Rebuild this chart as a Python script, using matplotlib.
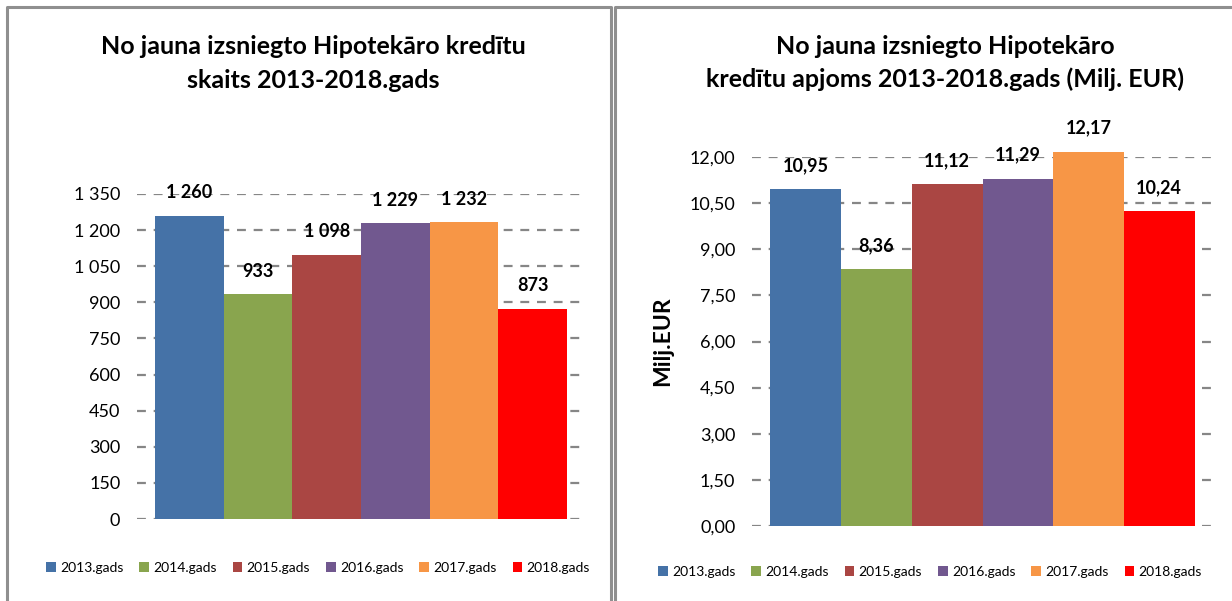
import matplotlib
matplotlib.use("Agg")
import matplotlib.pyplot as plt
from matplotlib.lines import Line2D
from matplotlib.patches import Patch

plt.rcParams['font.family'] = ['Lato', 'DejaVu Sans']

years = ["2013.gads", "2014.gads", "2015.gads", "2016.gads", "2017.gads", "2018.gads"]
counts = [1260, 933, 1098, 1229, 1232, 873]
volumes = [10.95, 8.36, 11.12, 11.29, 12.17, 10.24]
count_ticks = [0, 150, 300, 450, 600, 750, 900, 1050, 1200, 1350]
volume_ticks = [0, 1.5, 3.0, 4.5, 6.0, 7.5, 9.0, 10.5, 12.0]
colors = ["#4572A7", "#89A54E", "#AA4643", "#71588F", "#F79646", "#FF0000"]

title_left = ["No jauna izsniegto Hipotekāro kredītu", "skaits 2013-2018.gads"]
title_right = ["No jauna izsniegto Hipotekāro", "kredītu apjoms 2013-2018.gads (Milj. EUR)"]

W, H = 1232, 601
fig = plt.figure(figsize=(W / 100, H / 100), dpi=100)
fig.patch.set_facecolor("white")


def fx(px):
    return px / W


def fy(py):
    return 1 - py / H


def sep_thousands(v):
    return f"{int(round(v)):,}".replace(",", " ")


def comma_dec(v):
    return f"{v:.2f}".replace(".", ",")


# panel borders
bc = "#8f8f8f"
fig.add_artist(Line2D([fx(7), fx(7), fx(611), fx(611)], [0, fy(7), fy(7), 0],
                      transform=fig.transFigure, color=bc, lw=2.2))
fig.add_artist(Line2D([fx(615), fx(615), 1.0], [0, fy(7), fy(7)],
                      transform=fig.transFigure, color=bc, lw=2.2))


def draw(ax_rect, values, ticks, fmt, ymax, lab_off):
    ax = fig.add_axes(ax_rect)
    n = len(values)
    group = 0.92
    w = group / n
    start = 0.5 - group / 2
    xs = [start + w * (i + 0.5) for i in range(n)]
    bars = ax.bar(xs, values, width=w, color=colors, zorder=3, linewidth=0)
    for b in bars:
        b.set_clip_on(False)
    for x, v in zip(xs, values):
        ax.annotate(fmt(v), (x, v), xytext=(0, lab_off), textcoords="offset points",
                    ha="center", va="center", fontsize=13, fontweight="bold", zorder=4,
                    annotation_clip=False)
    ax.set_xlim(0, 1)
    ax.set_ylim(0, ymax)
    ax.set_yticks(ticks)
    ax.set_yticklabels([fmt(t) for t in ticks], fontsize=13)
    ax.set_xticks([])
    for s in ax.spines.values():
        s.set_visible(False)
    ax.tick_params(axis="y", length=0, pad=12)
    ax.yaxis.grid(True, color="#868686", lw=1.6, ls=(0, (4, 3.5)), zorder=0)
    ax.set_facecolor("none")
    ax.set_axisbelow(True)
    return ax


axL = draw([fx(137), 1 - 519 / H, fx(585) - fx(137), (519 - 194) / H],
           counts, count_ticks, sep_thousands, 1350, 16.5)
axR = draw([fx(752), 1 - 526 / H, fx(1213) - fx(752), (526 - 157) / H],
           volumes, volume_ticks, comma_dec, 12, 17)
axR.set_ylabel("Milj.EUR", fontsize=16.5, fontweight="bold", labelpad=12)

# titles
tkw = dict(ha="center", va="center", fontsize=18, fontweight="bold")
fig.text(fx(313), fy(47), title_left[0], **tkw)
fig.text(fx(313), fy(80), title_left[1], **tkw)
fig.text(fx(945), fy(47), title_right[0], **tkw)
fig.text(fx(945), fy(79), title_right[1], **tkw)

handles = [Patch(facecolor=c, edgecolor="none") for c in colors]
for cx, cy in [(318, 568), (930, 572)]:
    fig.legend(handles, years, loc="center", bbox_to_anchor=(fx(cx), fy(cy)),
               ncol=6, frameon=False, fontsize=10, handlelength=0.7, handleheight=0.7,
               handletextpad=0.3, columnspacing=1.15)

fig.savefig("out.png", dpi=100, facecolor="white")
